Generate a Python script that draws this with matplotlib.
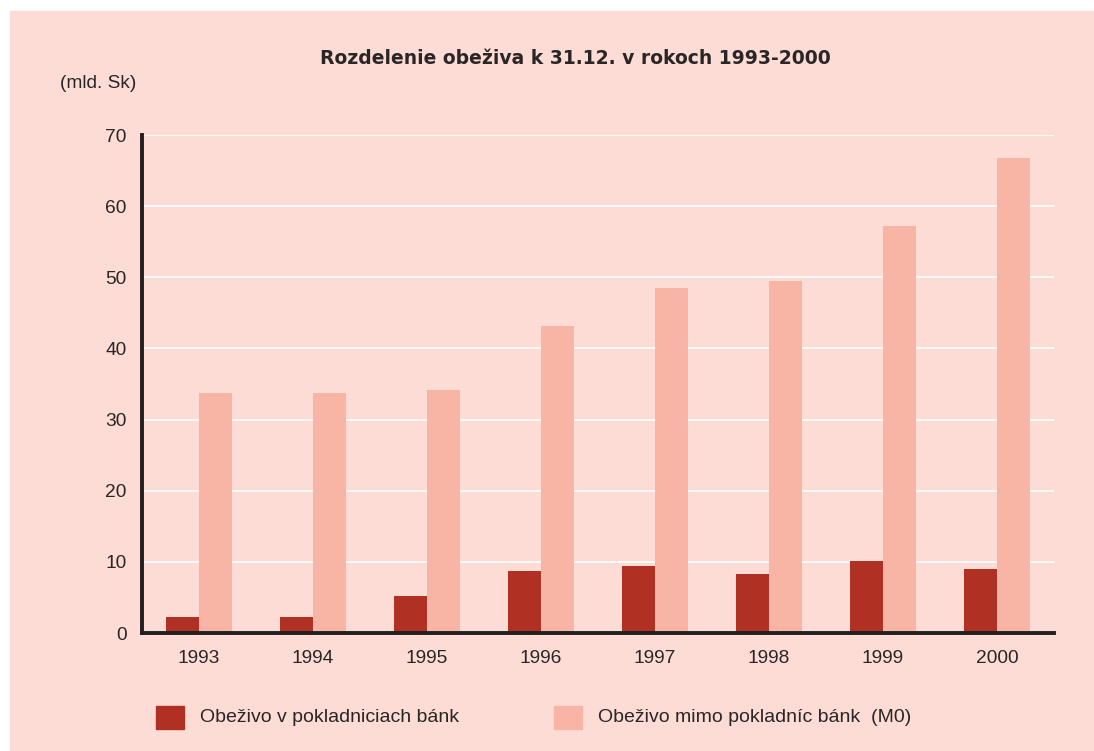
import matplotlib.pyplot as plt
import matplotlib.patches as mpatches
import numpy as np

years = ['1993', '1994', '1995', '1996', '1997', '1998', '1999', '2000']
in_banks = [2.2, 2.2, 5.2, 8.7, 9.4, 8.3, 10.1, 9.0]
outside_banks = [33.8, 33.8, 34.2, 43.2, 48.5, 49.5, 57.2, 66.8]
labels = ['Obeživo v pokladniciach bánk', 'Obeživo mimo pokladníc bánk  (M0)']

bg = '#FDDCD5'
dark = '#B03024'
light = '#F8B5A5'
txt = '#2a2526'

plt.rcParams['font.family'] = ['Liberation Sans', 'DejaVu Sans']

fig = plt.figure(figsize=(10.94, 7.51), dpi=100)
fig.patch.set_facecolor('white')
# pink panel with white margin on top and left
fig.patches.append(mpatches.Rectangle((10/1094, 0), 1 - 10/1094, 1 - 11/751,
                                      transform=fig.transFigure, color=bg, zorder=-10))

ax = fig.add_axes([142/1094, 118/751, 912/1094, 498/751])
ax.set_facecolor(bg)

x = np.arange(len(years))
w = 0.29
ax.bar(x - w/2, in_banks, w, color=dark, zorder=3)
ax.bar(x + w/2, outside_banks, w, color=light, zorder=3)

ax.set_xlim(-0.5, len(years) - 0.5)
ax.set_ylim(0, 70)
ax.set_yticks(range(0, 71, 10))
ax.set_xticks(x)
ax.set_xticklabels(years)
ax.yaxis.grid(True, color='white', linewidth=1.2, zorder=1)
ax.set_axisbelow(True)
ax.tick_params(length=0, labelsize=13.8, colors=txt)
ax.tick_params(axis='x', pad=12)
ax.tick_params(axis='y', pad=11)

for s in ['top', 'right']:
    ax.spines[s].set_visible(False)
for s in ['left', 'bottom']:
    ax.spines[s].set_linewidth(2.8)
    ax.spines[s].set_color('#231f20')
    ax.spines[s].set_zorder(4)

fig.text(575/1094, 1 - 58/751, 'Rozdelenie obeživa k 31.12. v rokoch 1993-2000',
         ha='center', va='center', fontsize=13.5, fontweight='bold', color=txt,
         family='DejaVu Sans')
fig.text(60/1094, 1 - 83/751, '(mld. Sk)', ha='left', va='center',
         fontsize=13.8, color=txt)

# legend
for x0, c, lab in [(156, dark, labels[0]), (554, light, labels[1])]:
    fig.patches.append(mpatches.Rectangle((x0/1094, 1 - 729/751), 28/1094, 23/751,
                                          transform=fig.transFigure, color=c, zorder=2))
    fig.text((x0 + 44)/1094, 1 - 717/751, lab, ha='left', va='center',
             fontsize=14, color=txt)

fig.savefig('out.png', dpi=100, facecolor=fig.get_facecolor())
